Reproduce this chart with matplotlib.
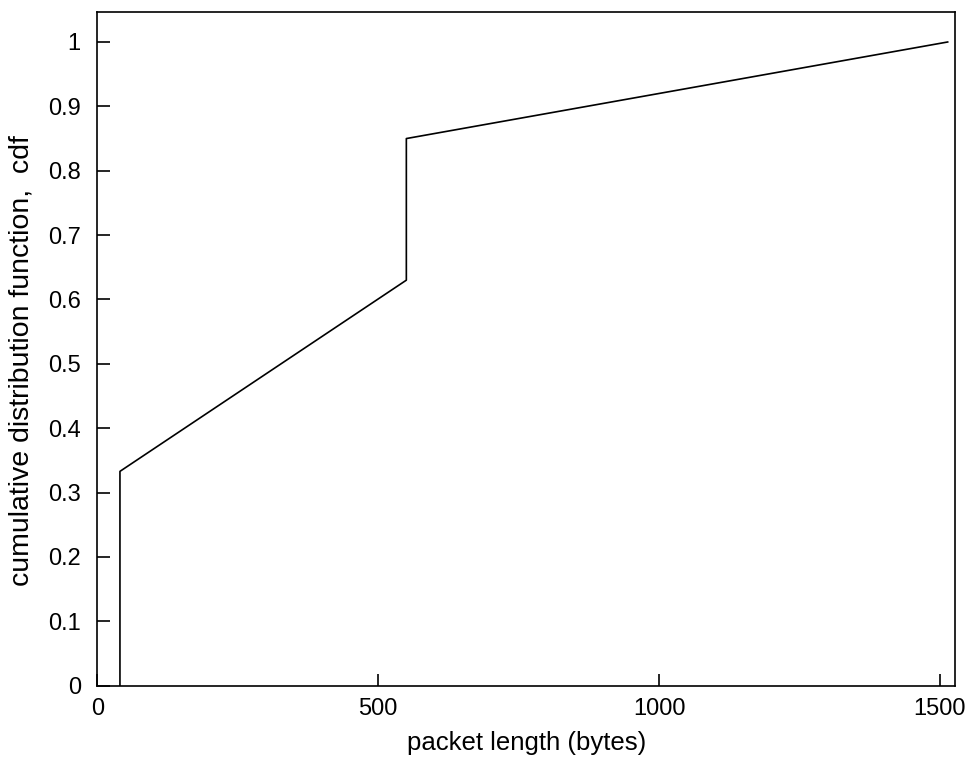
import matplotlib
matplotlib.use("Agg")
import matplotlib.pyplot as plt

# cdf of packet lengths (bytes)
packet_len = [40, 40, 550, 550, 1514]
cdf = [0.0, 0.333, 0.63, 0.85, 1.0]

x_ticks = [0, 500, 1000, 1500]
y_ticks = [0, 0.1, 0.2, 0.3, 0.4, 0.5, 0.6, 0.7, 0.8, 0.9, 1.0]
y_tick_labels = ["0", "0.1", "0.2", "0.3", "0.4", "0.5", "0.6", "0.7", "0.8", "0.9", "1"]

plt.rcParams["font.family"] = ["Liberation Sans", "DejaVu Sans"]

fig = plt.figure(figsize=(9.71, 7.62), dpi=100)
ax = fig.add_axes([0.1004, 0.1001, 0.8831, 0.8845])

ax.plot(packet_len, cdf, color="black", linewidth=1.2)

ax.set_xlim(0, 1527)
ax.set_ylim(0, 1.047)
ax.set_xticks(x_ticks)
ax.set_yticks(y_ticks)
ax.set_yticklabels(y_tick_labels)

ax.tick_params(direction="in", length=9, width=1.2, labelsize=17, colors="black",
               top=False, right=False)
ax.tick_params(axis="x", pad=9)
ax.tick_params(axis="y", pad=12)
for sp in ax.spines.values():
    sp.set_linewidth(1.2)

ax.set_xlabel("packet length (bytes)", fontsize=18.5, labelpad=8)
ax.set_ylabel("cumulative distribution function,  cdf", fontsize=20.5)
ax.yaxis.set_label_coords(-0.073, 0.482)

fig.savefig("out.png", dpi=100)
